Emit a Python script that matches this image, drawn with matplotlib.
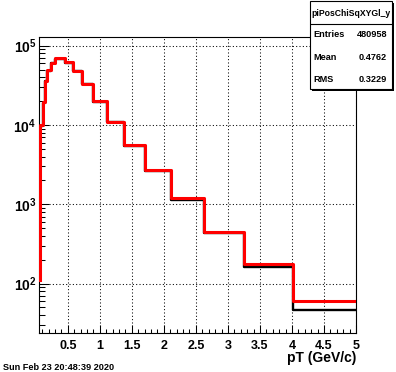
import numpy as np
import matplotlib
matplotlib.use("Agg")
import matplotlib.pyplot as plt
from matplotlib.ticker import MultipleLocator, FuncFormatter, NullFormatter, LogLocator
from matplotlib.patches import Rectangle

plt.rcParams['font.family'] = ['Liberation Sans', 'DejaVu Sans']
plt.rcParams['font.weight'] = 'bold'
plt.rcParams['mathtext.fontset'] = 'custom'
plt.rcParams['mathtext.rm'] = 'Liberation Sans:bold'
plt.rcParams['mathtext.bf'] = 'Liberation Sans:bold'

# bin edges in pT (GeV/c)
edges = [0.07, 0.11, 0.14, 0.18, 0.23, 0.30, 0.45, 0.58, 0.72, 0.90,
         1.11, 1.38, 1.70, 2.11, 2.62, 3.25, 4.02, 5.00]
# counts per bin
red_counts = [9900, 19500, 35900, 49000, 61000, 69300, 62300, 48000, 33200,
              19900, 11000, 5600, 2680, 1190, 448, 178, 61]
black_counts = [9700, 18900, 35500, 48500, 60500, 68700, 60400, 47500, 32800,
                19400, 10800, 5450, 2650, 1140, 433, 160, 46]
red_start = 110
black_start = 1650

stat_title = "piPosChiSqXYGl_y"
stat_names = ["Entries", "Mean", "RMS"]
stat_values = ["480958", "0.4762", "0.3229"]

W, H = 396, 372
fig = plt.figure(figsize=(W / 100, H / 100), dpi=100)
ax = fig.add_axes([39.3 / W, 1 - 333.3 / H, (356 - 39.3) / W, (333.3 - 37.3) / H])


def step_points(e, counts, start):
    x = np.insert(np.asarray(e, float), 0, e[0])
    y = np.concatenate([[start], counts, [counts[-1]]])
    return x, y


bx, by = step_points(edges, black_counts, black_start)
rx, ry = step_points(edges, red_counts, red_start)
ax.step(bx, by, where='post', color='black', lw=1.7, zorder=3)
ax.step(rx, ry, where='post', color='red', lw=2.2, zorder=4)

ax.set_yscale('log')
ax.set_xlim(0.055, 5.0)
ax.set_ylim(23.6, 1.276e5)

# ticks
ax.xaxis.set_major_locator(MultipleLocator(0.5))
ax.xaxis.set_minor_locator(MultipleLocator(0.1))
ax.xaxis.set_major_formatter(FuncFormatter(lambda v, p: '%g' % v))
ax.set_yticks([1e2, 1e3, 1e4, 1e5])
ax.set_yticklabels([r'$\mathbf{10}^{\mathbf{%d}}$' % k for k in (2, 3, 4, 5)])
ax.yaxis.set_minor_locator(LogLocator(base=10, subs=np.arange(2, 10)))
ax.yaxis.set_minor_formatter(NullFormatter())

ax.tick_params(axis='x', which='major', direction='in', length=5.8, width=0.75,
               labelsize=9, pad=4.5)
ax.tick_params(axis='x', which='minor', direction='in', length=2.9, width=0.75)
ax.tick_params(axis='y', which='major', direction='in', length=7.2, width=0.75,
               labelsize=10, pad=2.2)
ax.tick_params(axis='y', which='minor', direction='in', length=4.0, width=0.75)

for s in ax.spines.values():
    s.set_linewidth(0.8)

ax.grid(True, which='major', color='black', lw=0.75, ls=(0, (1, 2.2)))
ax.set_axisbelow(False)

ax.set_xlabel('pT (GeV/c)', fontsize=10, fontweight='bold', ha='right', va='center')
ax.xaxis.set_label_coords(1.0, -(358 - 333.3) / 296)

fig.text(3 / W, 1 - 367 / H, 'Sun Feb 23 20:48:39 2020', fontsize=6.6,
         fontweight='bold', va='center', ha='left')

# stats box
bx0, bx1, by0, by1 = 310, 392, 1, 88.5
sax = fig.add_axes([bx0 / W, 1 - by1 / H, (bx1 - bx0) / W, (by1 - by0) / H])
sax.set_xlim(0, 1)
sax.set_ylim(0, 1)
sax.axis('off')
dx, dy = 2.0 / (bx1 - bx0), 2.0 / (by1 - by0)
sax.add_patch(Rectangle((dx, -dy), 1, 1, facecolor='black', edgecolor='none',
                        clip_on=False, zorder=1))
sax.add_patch(Rectangle((0, 0), 1, 1, facecolor='white', edgecolor='black',
                        lw=0.8, clip_on=False, zorder=2))
sax.plot([0, 1], [0.736, 0.736], color='black', lw=0.8, zorder=3)
sax.text(0.5, 0.861, stat_title, fontsize=6.2, fontweight='bold',
         ha='center', va='center', zorder=4)
for yv, name, val in zip([0.615, 0.358, 0.105], stat_names, stat_values):
    sax.text(0.045, yv, name, fontsize=6.6, fontweight='bold', ha='left', va='center', zorder=4)
    sax.text(0.94, yv, val, fontsize=6.6, fontweight='bold', ha='right', va='center', zorder=4)

fig.savefig('out.png', dpi=100)
